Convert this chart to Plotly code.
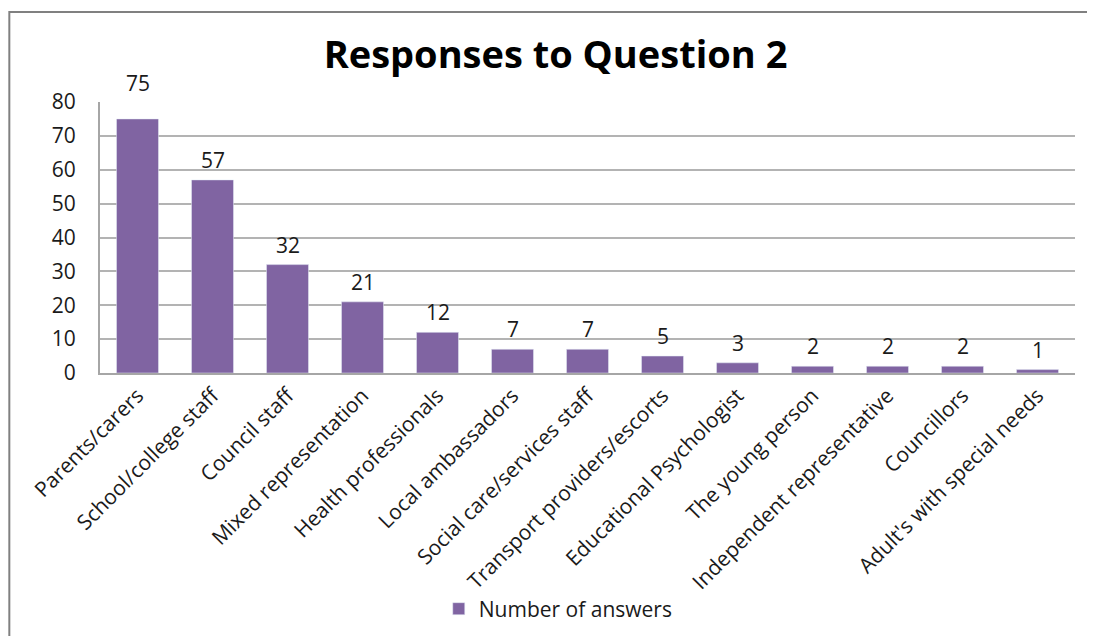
import plotly.graph_objects as go

categories = ["Parents/carers", "School/college staff", "Council staff", "Mixed representation",
              "Health professionals", "Local ambassadors", "Social care/services staff",
              "Transport providers/escorts", "Educational Psychologist", "The young person",
              "Independent representative", "Councillors", "Adult's with special needs"]
values = [75, 57, 32, 21, 12, 7, 7, 5, 3, 2, 2, 2, 1]
y_ticks = [0, 10, 20, 30, 40, 50, 60, 70, 80]

FONT = "Open Sans, sans-serif"
label_shift = [36] + [20] * (len(values) - 1)

fig = go.Figure()
fig.add_trace(go.Bar(
    x=categories, y=values, name="Number of answers",
    marker=dict(color="#8064A2"),
))

for c, v, s in zip(categories, values, label_shift):
    fig.add_annotation(x=c, y=v, text=str(v), showarrow=False, yshift=s,
                       yanchor="middle", xanchor="center",
                       font=dict(family=FONT, size=21, color="#1a1a1a"))

fig.update_layout(
    width=1095, height=636,
    margin=dict(l=92, r=28, t=94, b=271, autoexpand=False),
    paper_bgcolor="white", plot_bgcolor="white",
    title=dict(text="<b>Responses to Question 2</b>", x=0.5, xanchor="center",
               y=0.926, yanchor="middle",
               font=dict(family=FONT, size=38, color="black")),
    font=dict(family=FONT, size=21, color="#1a1a1a"),
    bargap=0.44,
    showlegend=True,
    legend=dict(orientation="h", x=0.47, xanchor="center", y=-0.871, yanchor="middle",
                bgcolor="rgba(0,0,0,0)",
                font=dict(family=FONT, size=21, color="#1a1a1a")),
    xaxis=dict(tickangle=-45, showline=True, linecolor="#a6a6a6", linewidth=2,
               ticks="", automargin=False, ticklabelstandoff=0,
               tickfont=dict(family=FONT, size=21, color="#1a1a1a")),
    yaxis=dict(range=[0, 80], tickvals=y_ticks, showgrid=True, gridcolor="#b3b3b3",
               gridwidth=2, showline=True, linecolor="#a6a6a6", linewidth=2,
               ticks="", zeroline=False, automargin=False, ticklabelstandoff=18,
               tickfont=dict(family=FONT, size=21, color="#1a1a1a")),
    shapes=[dict(type="rect", xref="paper", yref="paper",
                 x0=-0.093, x1=1.1, y0=-1.1, y1=1.332,
                 line=dict(color="#808080", width=2), layer="below")],
)

fig.write_html("out.html")
